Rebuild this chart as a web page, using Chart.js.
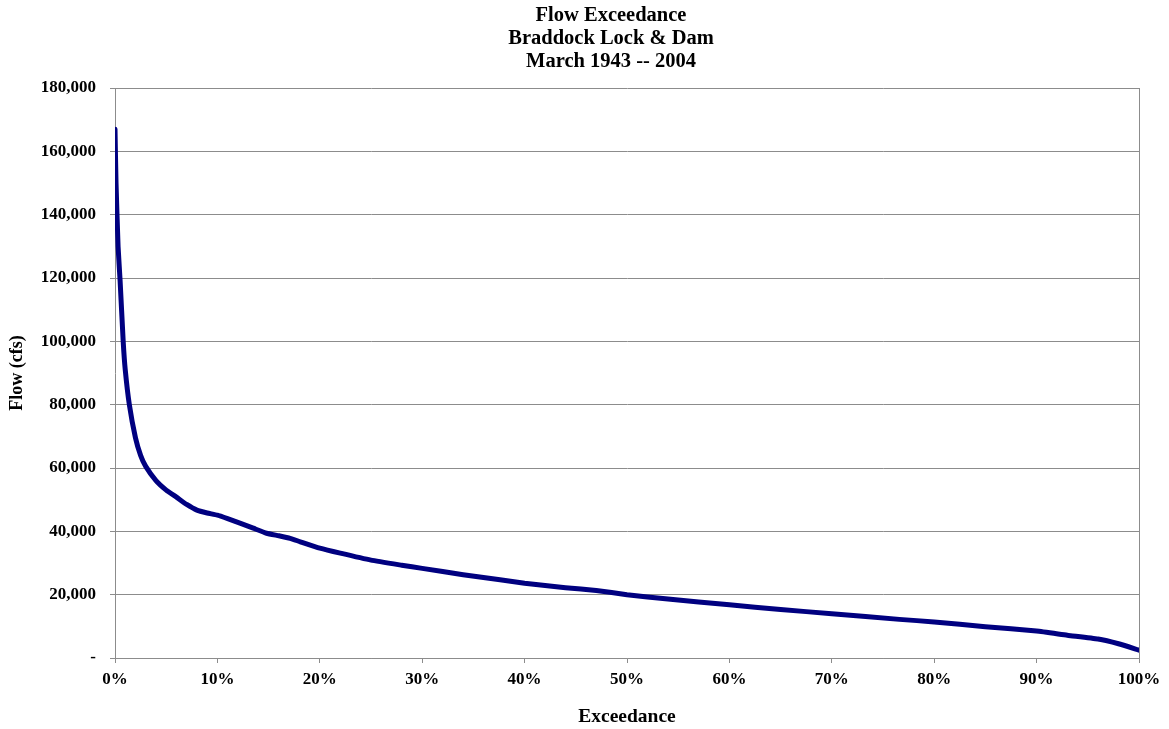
<!DOCTYPE html>
<html>
<head>
<meta charset="utf-8">
<script src="https://cdn.jsdelivr.net/npm/chart.js@4.4.1/dist/chart.umd.min.js"></script>
<style>
  html, body { margin: 0; padding: 0; background: #ffffff; }
  #wrap { width: 1169px; height: 729px; position: relative; }
</style>
</head>
<body>
<div id="wrap"><canvas id="c" width="1169" height="729"></canvas></div>
<script>
// ---- Data ----
const titleLines = ["Flow Exceedance", "Braddock Lock & Dam", "March 1943 -- 2004"];
const xAxisTitle = "Exceedance";
const yAxisTitle = "Flow (cfs)";

// Exceedance (%)
const exceedance = [0, 0.1, 0.3, 0.5, 0.8, 1.0, 1.4, 2.0, 2.5, 3.0, 4.0, 5.0, 6.0, 7.0, 8.0, 9.0, 10.0,
  11.0, 12.2, 13.5, 14.8, 16.0, 17.1, 18.1, 20, 22, 25, 28, 30, 34, 37.6, 40, 44, 47, 50, 54, 60, 65,
  70, 76.6, 80, 85, 90, 93, 96, 98, 100];
// Flow (cfs)
const flow = [167000, 150000, 130000, 119000, 100000, 91000, 80000, 69500, 64000, 60500, 56000, 53000,
  50800, 48500, 46700, 45800, 45100, 44000, 42600, 41000, 39400, 38600, 37800, 36700, 34700, 33100,
  30900, 29300, 28300, 26300, 24700, 23600, 22200, 21300, 20000, 18600, 16800, 15300, 14000, 12200,
  11400, 9900, 8500, 7200, 6000, 4500, 2500];

const yMin = 0, yMax = 180000, yStep = 20000;
const xMin = 0, xMax = 100, xStep = 10;

const points = exceedance.map((x, i) => ({ x: x, y: flow[i] }));

const serif = "'Liberation Serif', 'Times New Roman', serif";
const gridGray = '#8c8c8c';

const titlePlugin = {
  id: 'customTitle',
  afterDraw(chart) {
    const ctx = chart.ctx;
    ctx.save();
    ctx.fillStyle = '#000';
    ctx.font = 'bold 20.5px ' + serif;
    ctx.textAlign = 'center';
    ctx.textBaseline = 'middle';
    titleLines.forEach((t, i) => ctx.fillText(t, 611, 16 + i * 23));
    ctx.restore();
  }
};

new Chart(document.getElementById('c'), {
  type: 'line',
  data: {
    datasets: [{
      label: 'Flow',
      data: points,
      borderColor: '#000080',
      backgroundColor: '#000080',
      borderWidth: 5,
      pointRadius: 0,
      tension: 0.15,
      fill: false,
      borderCapStyle: 'round',
      borderJoinStyle: 'round'
    }]
  },
  options: {
    responsive: false,
    animation: false,
    devicePixelRatio: 1,
    layout: { padding: { top: 88, right: 30, bottom: 0, left: 0 } },
    plugins: {
      legend: { display: false },
      title: { display: false },
      tooltip: { enabled: false }
    },
    scales: {
      x: {
        type: 'linear',
        min: xMin, max: xMax,
        afterFit(scale) { scale.height = 71; },
        ticks: {
          stepSize: xStep,
          color: '#000',
          padding: 6,
          maxRotation: 0,
          font: { family: serif, size: 17, weight: 'bold' },
          callback: v => v + '%'
        },
        grid: {
          drawOnChartArea: true,
          color: ctx => (ctx.tick && ctx.tick.value === xMax) ? gridGray : 'rgba(0,0,0,0)',
          tickColor: gridGray,
          tickLength: 5,
          lineWidth: 1
        },
        border: { display: true, color: gridGray, width: 1 },
        title: {
          display: true,
          text: xAxisTitle,
          color: '#000',
          font: { family: serif, size: 19.5, weight: 'bold' },
          padding: { top: 5, bottom: 0 }
        }
      },
      y: {
        type: 'linear',
        min: yMin, max: yMax,
        afterFit(scale) { scale.width = 115; },
        ticks: {
          stepSize: yStep,
          color: '#000',
          padding: 14,
          font: { family: serif, size: 17, weight: 'bold' },
          callback: v => v === 0 ? '-' : v.toLocaleString('en-US')
        },
        grid: {
          color: gridGray,
          tickColor: gridGray,
          tickLength: 5,
          lineWidth: 1
        },
        border: { display: true, color: gridGray, width: 1 },
        title: {
          display: true,
          text: yAxisTitle,
          color: '#000',
          font: { family: serif, size: 18, weight: 'bold' },
          padding: { top: 7, bottom: 0 }
        }
      }
    }
  },
  plugins: [titlePlugin]
});
</script>
</body>
</html>
